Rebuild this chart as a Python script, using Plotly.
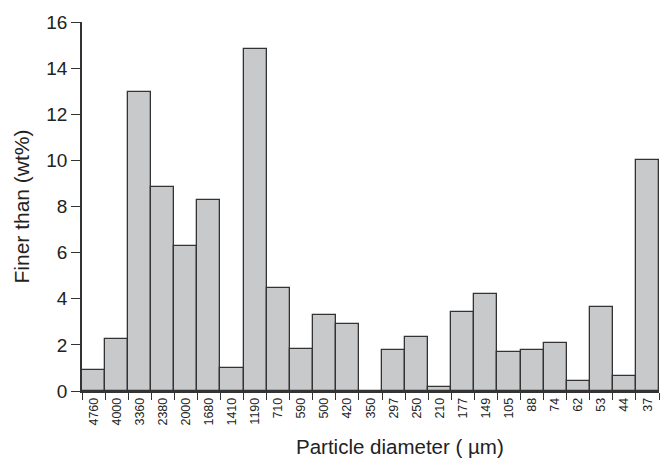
import plotly.graph_objects as go

# Sieve sizes (µm) and mass fraction retained in each size class
sizes = ["4760", "4000", "3360", "2380", "2000", "1680", "1410", "1190", "710",
         "590", "500", "420", "350", "297", "250", "210", "177", "149", "105",
         "88", "74", "62", "53", "44", "37"]
finer_wt = [0.9, 2.25, 12.95, 8.84, 6.27, 8.3, 1.0, 14.82, 4.46,
            1.82, 3.31, 2.92, 0.0, 1.78, 2.33, 0.18, 3.42, 4.22, 1.69,
            1.77, 2.07, 0.45, 3.65, 0.64, 10.03]
y_ticks = [0, 2, 4, 6, 8, 10, 12, 14, 16]

font = "Liberation Sans, Arial, sans-serif"
ink = "#222222"

fig = go.Figure(
    go.Bar(
        x=sizes,
        y=finer_wt,
        marker=dict(color="#c8c9cb", line=dict(color="#333333", width=1.3)),
        width=1.0,
    )
)

fig.update_layout(
    width=660,
    height=460,
    margin=dict(l=82, r=1, t=22, b=69, autoexpand=False),
    paper_bgcolor="white",
    plot_bgcolor="white",
    bargap=0,
    showlegend=False,
    font=dict(family=font, color=ink),
)

fig.update_xaxes(
    type="category",
    tickson="boundaries",
    ticks="outside",
    ticklen=7,
    tickwidth=1.3,
    tickcolor="#333333",
    tickangle=-90,
    tickfont=dict(size=12.5, family=font, color=ink),
    showline=True,
    linecolor="#333333",
    linewidth=1.5,
    showgrid=False,
    automargin=False,
)

# x-axis title, set a little right of the plot centre
fig.add_annotation(
    text="Particle diameter ( µm)",
    xref="paper", yref="paper",
    x=0.551, y=-0.113,
    xanchor="center", yanchor="top",
    showarrow=False,
    font=dict(size=20.5, family=font, color=ink),
)

fig.update_yaxes(
    range=[0, 16],
    tickvals=y_ticks,
    ticks="outside",
    ticklen=9,
    tickwidth=1.3,
    tickcolor="#333333",
    tickfont=dict(size=19, family=font, color=ink),
    showline=True,
    linecolor="#333333",
    linewidth=1.5,
    showgrid=False,
    zeroline=False,
    automargin=False,
    title=dict(text="Finer than (wt%)", font=dict(size=21, family=font, color=ink), standoff=11),
)

fig.write_html("out.html")
